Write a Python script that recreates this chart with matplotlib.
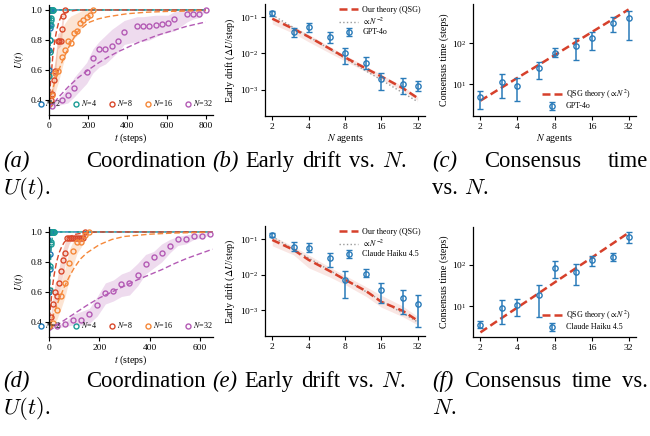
import matplotlib
matplotlib.use("Agg")
import matplotlib.pyplot as plt
from matplotlib.ticker import NullLocator, FixedLocator, FixedFormatter
import numpy as np

plt.rcParams['font.family'] = 'serif'
plt.rcParams['font.serif'] = ['Liberation Serif', 'DejaVu Serif']
plt.rcParams['mathtext.fontset'] = 'stix'

# ---------------- colours ----------------
C2, C4, C8, C16, C32 = '#1f77b4', '#1a9c96', '#d9482b', '#f5883a', '#b45bb5'
CBLUE = '#2a7bb9'
CRED = '#d6402b'

# ---------------- panel (a): GPT-4o U(t) ----------------
a_t2 = [0, 1, 2, 3, 4, 5, 6, 7, 8]
a_U2 = [0.37, 0.60, 0.73, 0.80, 0.88, 0.90, 1.0, 1.0, 1.0]
a_t4 = [0, 2, 4, 6, 8, 10, 12, 14, 16, 18, 20]
a_U4 = [0.38, 0.56, 0.72, 0.80, 0.90, 0.93, 0.944, 1.0, 1.0, 1.0, 1.0]
a_t8 = [0, 8, 16, 24, 32, 44, 52, 60, 64, 72, 80]
a_U8 = [0.37, 0.40, 0.44, 0.53, 0.59, 0.79, 0.79, 0.795, 0.87, 0.96, 1.0]
a_lo8 = [0.36, 0.38, 0.41, 0.47, 0.55, 0.74, 0.75, 0.76, 0.80, 0.90, 0.98]
a_hi8 = [0.38, 0.42, 0.48, 0.60, 0.67, 0.84, 0.85, 0.86, 0.92, 0.99, 1.0]
a_t16 = [0, 16, 32, 48, 64, 80, 96, 112, 128, 144, 160, 176, 192, 208, 224]
a_U16 = [0.37, 0.43, 0.58, 0.59, 0.685, 0.733, 0.79, 0.778, 0.844, 0.86, 0.91, 0.933, 0.951, 0.967, 1.0]
a_lo16 = [0.36, 0.38, 0.45, 0.52, 0.60, 0.68, 0.74, 0.78, 0.81, 0.83, 0.87, 0.90, 0.93, 0.95, 0.98]
a_hi16 = [0.40, 0.52, 0.68, 0.80, 0.87, 0.91, 0.94, 0.96, 0.97, 0.98, 0.99, 1.0, 1.0, 1.0, 1.0]
a_t32 = [16, 64, 96, 128, 192, 224, 256, 288, 320, 352, 384, 448, 480, 512, 544, 576, 608, 640, 704, 736, 768, 800]
a_U32 = [0.36, 0.40, 0.43, 0.48, 0.585, 0.68, 0.74, 0.74, 0.76, 0.79, 0.855, 0.895, 0.89, 0.89, 0.90, 0.905, 0.915, 0.94, 0.975, 0.975, 0.975, 1.0]
a_lo32 = [0.35, 0.37, 0.38, 0.42, 0.51, 0.58, 0.62, 0.64, 0.68, 0.72, 0.77, 0.79, 0.79, 0.80, 0.82, 0.84, 0.85, 0.86, 0.92, 0.94, 0.95, 0.99]
a_hi32 = [0.37, 0.43, 0.48, 0.55, 0.65, 0.74, 0.79, 0.83, 0.87, 0.90, 0.93, 0.955, 0.955, 0.96, 0.965, 0.965, 0.965, 0.99, 1.0, 1.0, 1.0, 1.0]

a_th_t2 = [0, 2, 4, 6, 8, 10, 15, 20, 800]
a_th_U2 = [0.37, 0.70, 0.88, 0.96, 0.99, 1.0, 1.0, 1.0, 1.0]
a_th_t4 = [0, 3, 6, 9, 12, 15, 20, 30, 800]
a_th_U4 = [0.37, 0.62, 0.78, 0.88, 0.94, 0.97, 0.99, 1.0, 1.0]
a_th_t8 = [0, 10, 20, 30, 40, 50, 60, 80, 100, 150, 200, 800]
a_th_U8 = [0.38, 0.55, 0.70, 0.80, 0.87, 0.92, 0.95, 0.98, 0.99, 1.0, 1.0, 1.0]
a_th_t16 = [0, 25, 50, 75, 100, 125, 150, 200, 250, 300, 400, 500, 600, 800]
a_th_U16 = [0.38, 0.50, 0.60, 0.68, 0.75, 0.81, 0.86, 0.915, 0.94, 0.955, 0.975, 0.985, 0.99, 0.995]
a_th_t32 = [0, 50, 100, 150, 200, 250, 300, 350, 400, 450, 500, 550, 600, 650, 700, 750, 800]
a_th_U32 = [0.34, 0.42, 0.49, 0.55, 0.60, 0.645, 0.685, 0.72, 0.75, 0.78, 0.805, 0.83, 0.85, 0.87, 0.89, 0.905, 0.92]

# ---------------- panel (d): Claude U(t) ----------------
d_t2 = [0, 1, 2, 3, 4, 5, 6]
d_U2 = [0.37, 0.60, 0.75, 0.85, 1.0, 1.0, 1.0]
d_t4 = [0, 2, 4, 6, 8, 10, 12, 14, 16, 18, 20]
d_U4 = [0.37, 0.61, 0.77, 0.92, 0.93, 1.0, 1.0, 1.0, 1.0, 1.0, 1.0]
d_t8 = [0, 8, 16, 24, 32, 40, 48, 56, 64, 72, 80, 88, 96, 104, 112, 120, 128, 136, 144]
d_U8 = [0.37, 0.43, 0.52, 0.60, 0.57, 0.66, 0.74, 0.81, 0.86, 0.96, 0.96, 0.96, 0.96, 0.96, 0.96, 0.96, 0.96, 0.96, 1.0]
d_lo8 = [0.36, 0.40, 0.47, 0.52, 0.53, 0.60, 0.66, 0.72, 0.78, 0.88, 0.92, 0.94, 0.95, 0.95, 0.95, 0.95, 0.95, 0.95, 0.99]
d_hi8 = [0.38, 0.46, 0.57, 0.66, 0.68, 0.76, 0.84, 0.89, 0.93, 0.97, 0.97, 0.97, 0.97, 0.97, 0.97, 0.97, 0.97, 0.98, 1.0]
d_t16 = [0, 16, 32, 48, 64, 80, 96, 112, 128, 144, 160]
d_U16 = [0.37, 0.39, 0.48, 0.57, 0.66, 0.79, 0.87, 0.93, 0.93, 0.98, 1.0]
d_lo16 = [0.36, 0.37, 0.42, 0.49, 0.57, 0.68, 0.78, 0.86, 0.90, 0.96, 0.99]
d_hi16 = [0.39, 0.44, 0.56, 0.66, 0.76, 0.88, 0.94, 0.97, 0.97, 1.0, 1.0]
d_t32 = [32, 64, 96, 128, 160, 192, 224, 256, 288, 320, 352, 384, 416, 448, 480, 512, 544, 576, 608, 640]
d_U32 = [0.37, 0.385, 0.41, 0.415, 0.45, 0.51, 0.595, 0.605, 0.65, 0.66, 0.71, 0.785, 0.833, 0.862, 0.908, 0.951, 0.951, 0.973, 0.973, 0.986]
d_lo32 = [0.36, 0.37, 0.38, 0.38, 0.39, 0.44, 0.52, 0.54, 0.57, 0.58, 0.64, 0.72, 0.76, 0.80, 0.86, 0.91, 0.92, 0.95, 0.96, 0.98]
d_hi32 = [0.38, 0.40, 0.45, 0.47, 0.49, 0.57, 0.66, 0.68, 0.72, 0.74, 0.79, 0.85, 0.87, 0.92, 0.95, 0.97, 0.98, 0.99, 0.99, 1.0]

d_th_t2 = [0, 2, 4, 6, 8, 10, 15, 650]
d_th_U2 = [0.37, 0.72, 0.90, 0.97, 0.99, 1.0, 1.0, 1.0]
d_th_t4 = [0, 3, 6, 9, 12, 15, 20, 30, 650]
d_th_U4 = [0.37, 0.64, 0.80, 0.90, 0.95, 0.98, 0.99, 1.0, 1.0]
d_th_t8 = [0, 5, 10, 15, 20, 30, 40, 50, 60, 80, 100, 150, 200, 650]
d_th_U8 = [0.37, 0.48, 0.57, 0.65, 0.71, 0.80, 0.86, 0.90, 0.93, 0.965, 0.983, 0.997, 1.0, 1.0]
d_th_t16 = [0, 20, 40, 60, 80, 100, 125, 150, 200, 250, 300, 400, 500, 650]
d_th_U16 = [0.37, 0.46, 0.55, 0.63, 0.70, 0.76, 0.82, 0.86, 0.915, 0.95, 0.97, 0.985, 0.993, 0.998]
d_th_t32 = [0, 50, 100, 150, 200, 250, 300, 350, 400, 450, 500, 550, 600, 650]
d_th_U32 = [0.34, 0.40, 0.455, 0.51, 0.56, 0.60, 0.64, 0.68, 0.715, 0.75, 0.79, 0.825, 0.855, 0.885]

# ---------------- panels (b),(c),(e),(f) ----------------
N_agents = [2, 3, 4, 6, 8, 12, 16, 24, 32]
N_ticks = [2, 4, 8, 16, 32]
N_ref = [2, 32]

b_drift = [0.129, 0.0383, 0.0527, 0.0289, 0.0100, 0.0056, 0.00197, 0.0014, 0.00124]
b_hi = [0.152, 0.0494, 0.068, 0.0398, 0.0143, 0.00774, 0.00289, 0.00215, 0.0017]
b_lo = [0.109, 0.0289, 0.0398, 0.019, 0.00504, 0.0036, 0.00095, 0.00074, 0.00091]
b_theory = [0.092, 0.048, 0.029, 0.0135, 0.0078, 0.0038, 0.0023, 0.0011, 0.00058]
b_th_lo = [0.066, 0.036, 0.021, 0.0102, 0.0062, 0.0031, 0.0019, 0.00092, 0.00050]
b_th_hi = [0.104, 0.056, 0.034, 0.0155, 0.0090, 0.0044, 0.0026, 0.00125, 0.00064]
b_ref = [0.117, 0.00046]

e_drift = [0.129, 0.0612, 0.055, 0.029, 0.0070, 0.0105, 0.00376, 0.00225, 0.00147]
e_hi = [0.153, 0.081, 0.0759, 0.040, 0.0127, 0.0147, 0.00587, 0.0036, 0.00266]
e_lo = [0.116, 0.0464, 0.0427, 0.0164, 0.00225, 0.00863, 0.00153, 0.00077, 0.00033]
e_theory = [0.095, 0.050, 0.026, 0.0125, 0.0072, 0.0034, 0.0017, 0.00095, 0.0005]
e_th_lo = [0.065, 0.036, 0.0155, 0.0085, 0.0052, 0.0024, 0.0012, 0.00065, 0.00038]
e_th_hi = [0.125, 0.062, 0.036, 0.016, 0.0095, 0.0045, 0.0026, 0.0013, 0.00065]
e_ref = [0.117, 0.00046]

c_time = [4.71, 11.2, 8.9, 24.3, 58.7, 85.9, 133, 309, 411]
c_hi = [6.8, 17.6, 13.8, 35.3, 75.3, 133, 186, 436, 631]
c_lo = [2.39, 4.45, 3.82, 13.3, 46.9, 38.9, 68.4, 190, 121]
c_theory = [3.9, 8.3, 14.2, 30, 51, 109, 187, 397, 679]

f_time = [3.54, 8.95, 10.4, 18.9, 83, 66.5, 128, 153, 468]
f_hi = [4.27, 14.3, 15.1, 33, 121, 106, 160, 192, 616]
f_lo = [2.93, 3.75, 5.73, 5.42, 48.6, 31.6, 92.5, 121, 343]
f_theory = [2.3, 5.2, 9.2, 20.7, 37, 83, 147, 331, 590]

W, H = 650, 436
fig = plt.figure(figsize=(6.5, 4.36), dpi=100)

def axpix(l, t, r, b):
    return fig.add_axes([l / W, 1 - b / H, (r - l) / W, (b - t) / H])

TS = 6.8
LS = 7.2

def style(ax):
    for s in ['top', 'right']:
        ax.spines[s].set_visible(False)
    for s in ['left', 'bottom']:
        ax.spines[s].set_linewidth(0.9)
    ax.tick_params(labelsize=TS, length=3, width=0.8, pad=2)

def upanel(ax, series, bands, theory, xmax, xticks, show_xlabel):
    cols = [C2, C4, C8, C16, C32]
    labels = ['$N$=2', '$N$=4', '$N$=8', '$N$=16', '$N$=32']
    for (t, lo, hi), c in bands:
        ax.fill_between(t, lo, hi, color=c, alpha=0.22, lw=0)
    for (t, u), c in zip(theory, cols):
        ax.plot(t, u, color=c, ls=(0, (4, 2)), lw=1.0)
    for (t, u), c, lab in zip(series, cols, labels):
        ax.plot(t, u, 'o', mfc='none', mec=c, mew=1.0, ms=3.6, label=lab)
    ax.set_xlim(0, xmax)
    ax.set_ylim(0.3, 1.033)
    ax.set_xticks(xticks)
    ax.set_yticks([0.4, 0.6, 0.8, 1.0])
    ax.set_ylabel('$U(t)$', fontsize=LS, labelpad=3)
    if show_xlabel:
        ax.set_xlabel('$t$ (steps)', fontsize=LS, labelpad=1)
    style(ax)
    leg = ax.legend(loc='center left', bbox_to_anchor=(-0.075, 0.105), ncol=5, frameon=False,
                    fontsize=5.8, handletextpad=0.05, columnspacing=1.45, handlelength=1.0,
                    borderpad=0, borderaxespad=0)
    leg.set_zorder(10)

def logx(ax):
    ax.set_xscale('log', base=2)
    ax.xaxis.set_major_locator(FixedLocator(N_ticks))
    ax.xaxis.set_major_formatter(FixedFormatter([str(n) for n in N_ticks]))
    ax.xaxis.set_minor_locator(NullLocator())

def drift_panel(ax, d, lo, hi, th, thlo, thhi, ref, lab, show_xlabel):
    ax.set_yscale('log')
    logx(ax)
    ax.fill_between(N_agents, thlo, thhi, color=CRED, alpha=0.13, lw=0)
    ax.plot(N_agents, th, color=CRED, ls=(0, (3.2, 1.6)), lw=1.8, label='Our theory (QSG)', zorder=3)
    ax.plot(N_ref, ref, color='#999999', ls=':', lw=1.0, label=r'$\propto N^{-2}$', zorder=2)
    d = np.array(d); lo = np.array(lo); hi = np.array(hi)
    ax.errorbar(N_agents, d, yerr=[d - lo, hi - d], fmt='o', color=CBLUE, mfc='none', mew=1.0,
                ms=3.8, capsize=2, elinewidth=1.1, capthick=1.0, label=lab, zorder=4)
    ax.set_xlim(2 ** 0.8, 2 ** 5.2)
    ax.set_ylim(1.85e-4, 0.235)
    ax.yaxis.set_minor_locator(NullLocator())
    ax.set_ylabel(r'Early drift ($\Delta U$/step)', fontsize=LS, labelpad=2)
    if show_xlabel:
        ax.set_xlabel('$N$ agents', fontsize=LS, labelpad=1)
    style(ax)
    ax.legend(loc='upper right', frameon=False, fontsize=5.8, handlelength=2.4,
              handletextpad=0.5, labelspacing=0.2, borderaxespad=0.1, bbox_to_anchor=(1.0, 1.02))

def time_panel(ax, tm, lo, hi, th, lab, ylim, show_xlabel):
    ax.set_yscale('log')
    logx(ax)
    ax.plot(N_agents, th, color=CRED, ls=(0, (3.2, 1.6)), lw=1.8, label=r'QSG theory ($\propto N^2$)', zorder=3)
    tm = np.array(tm); lo = np.array(lo); hi = np.array(hi)
    ax.errorbar(N_agents, tm, yerr=[tm - lo, hi - tm], fmt='o', color=CBLUE, mfc='none', mew=1.0,
                ms=3.8, capsize=2, elinewidth=1.1, capthick=1.0, label=lab, zorder=4)
    ax.set_xlim(2 ** 0.8, 2 ** 5.2)
    ax.set_ylim(*ylim)
    ax.yaxis.set_minor_locator(NullLocator())
    ax.set_ylabel('Consensus time (steps)', fontsize=LS, labelpad=2)
    if show_xlabel:
        ax.set_xlabel('$N$ agents', fontsize=LS, labelpad=1)
    style(ax)
    ax.legend(loc='lower right', frameon=False, fontsize=5.8, handlelength=2.4,
              handletextpad=0.5, labelspacing=0.2, borderaxespad=0.3)

# top row
axa = axpix(49, 5, 213, 115)
upanel(axa,
       [(a_t2, a_U2), (a_t4, a_U4), (a_t8, a_U8), (a_t16, a_U16), (a_t32, a_U32)],
       [((a_t8, a_lo8, a_hi8), C8), ((a_t16, a_lo16, a_hi16), C16), ((a_t32, a_lo32, a_hi32), C32)],
       [(a_th_t2, a_th_U2), (a_th_t4, a_th_U4), (a_th_t8, a_th_U8), (a_th_t16, a_th_U16), (a_th_t32, a_th_U32)],
       837, [0, 200, 400, 600, 800], True)
axb = axpix(265, 4, 425, 116)
drift_panel(axb, b_drift, b_lo, b_hi, b_theory, b_th_lo, b_th_hi, b_ref, 'GPT-4o', True)
axc = axpix(473, 4, 636, 116)
time_panel(axc, c_time, c_lo, c_hi, c_theory, 'GPT-4o', (1.64, 925), True)

# bottom row
axd = axpix(49, 227, 213, 337)
upanel(axd,
       [(d_t2, d_U2), (d_t4, d_U4), (d_t8, d_U8), (d_t16, d_U16), (d_t32, d_U32)],
       [((d_t8, d_lo8, d_hi8), C8), ((d_t16, d_lo16, d_hi16), C16), ((d_t32, d_lo32, d_hi32), C32)],
       [(d_th_t2, d_th_U2), (d_th_t4, d_th_U4), (d_th_t8, d_th_U8), (d_th_t16, d_th_U16), (d_th_t32, d_th_U32)],
       652, [0, 200, 400, 600], True)
axe = axpix(265, 226, 425, 336)
drift_panel(axe, e_drift, e_lo, e_hi, e_theory, e_th_lo, e_th_hi, e_ref, 'Claude Haiku 4.5', False)
axf = axpix(473, 227, 636, 337)
time_panel(axf, f_time, f_lo, f_hi, f_theory, 'Claude Haiku 4.5', (1.78, 815), False)

# ---------------- captions ----------------
CS = 16.3
fig.canvas.draw()
rend = fig.canvas.get_renderer()

def place(words, x0, y, x1=None, gap_em=0.25):
    texts = []
    for w, st in words:
        t = fig.text(0, 0, w, fontsize=CS, style=st, va='baseline', ha='left', math_fontfamily='cm')
        texts.append(t)
    widths = [t.get_window_extent(rend).width for t in texts]
    if x1 is None or len(texts) == 1:
        gap = gap_em * CS * 100 / 72
    else:
        gap = (x1 - x0 - sum(widths)) / (len(texts) - 1)
    x = x0
    for t, w in zip(texts, widths):
        t.set_position((x / W, 1 - y / H))
        x += w + gap

for (y1, y2, lab1, lab2, lab3, last) in [(167, 194, '(a)', '(b)', '(c)', False),
                                           (387, 414, '(d)', '(e)', '(f)', True)]:
    place([(lab1, 'italic'), ('Coordination', 'normal')], 3, y1, 206)
    place([('$U(t)$.', 'normal')], 3, y2)
    place([(lab2, 'italic'), ('Early', 'normal'), ('drift', 'normal'), ('vs.', 'normal'), ('$N$.', 'normal')],
          212, y1, None, 0.33)
    if not last:
        place([(lab3, 'italic'), ('Consensus', 'normal'), ('time', 'normal')], 432, y1, 648)
        place([('vs.', 'normal'), ('$N$.', 'normal')], 432, y2)
    else:
        place([(lab3, 'italic'), ('Consensus', 'normal'), ('time', 'normal'), ('vs.', 'normal')], 432, y1, 648)
        place([('$N$.', 'normal')], 432, y2)

fig.savefig('out.png', dpi=100)
